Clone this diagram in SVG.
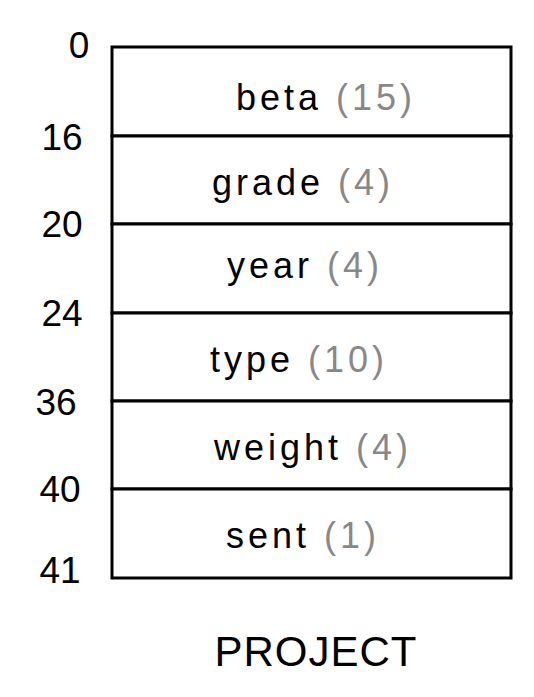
<svg xmlns="http://www.w3.org/2000/svg" width="534" height="697" viewBox="0 0 534 697">
<style>
.lbl{font-family:"Liberation Sans",Arial,sans-serif;font-size:36px;fill:#000;letter-spacing:4px;text-anchor:middle}
.sz{fill:#888}
.off{font-family:"Liberation Sans",Arial,sans-serif;font-size:37px;fill:#000;text-anchor:middle}
.title{font-family:"Liberation Sans",Arial,sans-serif;font-size:42px;fill:#000;text-anchor:middle;letter-spacing:1px}
.cell{fill:#fff;stroke:#000;stroke-width:3}
</style>
<rect width="534" height="697" fill="#fff"/>
<g id="offsets">
<text class="off" x="79" y="58">0</text>
<text class="off" x="62" y="150">16</text>
<text class="off" x="62" y="237">20</text>
<text class="off" x="62" y="326">24</text>
<text class="off" x="56" y="415">36</text>
<text class="off" x="60" y="502">40</text>
<text class="off" x="60" y="583">41</text>
</g>
<g id="beta">
<rect class="cell" x="112" y="47" width="399" height="89"/>
<text class="lbl" x="326" y="110">beta <tspan class="sz">(15)</tspan></text>
</g>
<g id="grade">
<rect class="cell" x="112" y="136" width="399" height="88"/>
<text class="lbl" x="303" y="195">grade <tspan class="sz">(4)</tspan></text>
</g>
<g id="year">
<rect class="cell" x="112" y="224" width="399" height="89"/>
<text class="lbl" x="305" y="278">year <tspan class="sz">(4)</tspan></text>
</g>
<g id="type">
<rect class="cell" x="112" y="313" width="399" height="88"/>
<text class="lbl" x="299" y="372">type <tspan class="sz">(10)</tspan></text>
</g>
<g id="weight">
<rect class="cell" x="112" y="401" width="399" height="88"/>
<text class="lbl" x="313" y="460">weight <tspan class="sz">(4)</tspan></text>
</g>
<g id="sent">
<rect class="cell" x="112" y="489" width="399" height="89"/>
<text class="lbl" x="303" y="548">sent <tspan class="sz">(1)</tspan></text>
</g>
<g id="connectors"></g>
<text class="title" x="316" y="666">PROJECT</text>
</svg>
